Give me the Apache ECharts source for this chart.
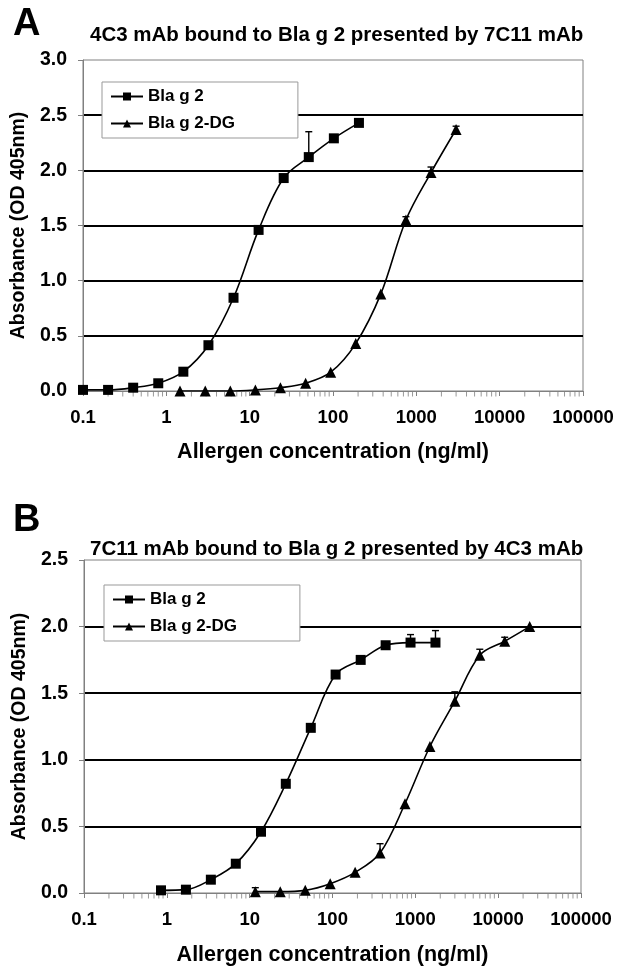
<!DOCTYPE html>
<html>
<head>
<meta charset="utf-8">
<script src="https://cdn.jsdelivr.net/npm/echarts@6/dist/echarts.min.js"></script>
<style>
html,body{margin:0;padding:0;background:#fff;}
#chart{width:624px;height:979px;}
</style>
</head>
<body>
<div id="chart"></div>
<script>
// ---------- data ----------
const seriesNames = ['Bla g 2', 'Bla g 2-DG'];
const xTickLabels = ['0.1', '1', '10', '100', '1000', '10000', '100000'];

// Panel A
const concA_bla = [0.1, 0.2, 0.4, 0.8, 1.6, 3.2, 6.4, 12.8, 25.6, 51.2, 102.4, 204.8];
const absA_bla  = [0.01, 0.01, 0.03, 0.07, 0.175, 0.415, 0.845, 1.46, 1.93, 2.12, 2.29, 2.43];
const errA_bla  = [null, null, null, null, null, null, null, null, null, 2.35, null, null];
const concA_dg  = [1.46, 2.93, 5.86, 11.7, 23.4, 46.9, 93.8, 187.5, 375, 750, 1500, 3000];
const absA_dg   = [0.0, 0.0, 0.0, 0.01, 0.03, 0.07, 0.17, 0.43, 0.88, 1.55, 1.98, 2.37];
const errA_dg   = [null, null, null, null, null, null, null, null, null, 1.58, 2.03, 2.40];

// Panel B
const concB_bla = [0.85, 1.7, 3.4, 6.8, 13.7, 27.3, 54.7, 109, 219, 438, 875, 1750];
const absB_bla  = [0.02, 0.025, 0.1, 0.22, 0.46, 0.82, 1.24, 1.64, 1.75, 1.86, 1.88, 1.88];
const errB_bla  = [null, null, null, null, null, null, null, null, null, null, 1.94, 1.97];
const concB_dg  = [11.7, 23.4, 46.9, 93.8, 187.5, 375, 750, 1500, 3000, 6000, 12000, 24000];
const absB_dg   = [0.01, 0.01, 0.02, 0.07, 0.155, 0.30, 0.67, 1.10, 1.44, 1.785, 1.89, 2.0];
const errB_dg   = [0.04, null, null, null, null, 0.37, null, null, 1.51, 1.83, 1.92, null];

const minorMultipliers = [2, 3, 4, 5, 6, 7, 8, 9];
const decades = [0.1, 1, 10, 100, 1000, 10000];

// ---------- helpers ----------
const FONT = '"Liberation Sans", Arial, sans-serif';
const pairs = (xs, ys) => xs.map((x, i) => [x, ys[i]]);
const errData = (xs, ys, es) => xs.map((x, i) => es[i] == null ? null : [x, ys[i], es[i]]).filter(d => d);
const minorTicks = [];
decades.forEach(d => minorMultipliers.forEach(m => minorTicks.push([d * m, 0])));

function errRender(params, api) {
  const p0 = api.coord([api.value(0), api.value(1)]);
  const p1 = api.coord([api.value(0), api.value(2)]);
  return {
    type: 'group',
    children: [
      { type: 'line', shape: { x1: p0[0], y1: p0[1], x2: p1[0], y2: p1[1] }, style: { stroke: '#000', lineWidth: 1.4 } },
      { type: 'line', shape: { x1: p1[0] - 3.5, y1: p1[1], x2: p1[0] + 3.5, y2: p1[1] }, style: { stroke: '#000', lineWidth: 1.4 } }
    ]
  };
}

function xAxisDef(gridIndex, gap) {
  return {
    type: 'log', gridIndex, logBase: 10, min: 0.1, max: 100000,
    axisLine: { show: true, lineStyle: { color: '#808080', width: 1 } },
    axisTick: { show: true, length: 5, inside: false, lineStyle: { color: '#808080' } },
    splitLine: { show: false },
    axisLabel: {
      margin: 17, color: '#000', fontFamily: FONT, fontWeight: 'bold', fontSize: 18.5,
      formatter: v => xTickLabels[Math.round(Math.log10(v)) + 1]
    },
    name: 'Allergen concentration (ng/ml)', nameLocation: 'middle', nameGap: gap,
    nameTextStyle: { color: '#000', fontFamily: FONT, fontWeight: 'bold', fontSize: 21.5 }
  };
}
function yAxisDef(gridIndex, max) {
  return {
    type: 'value', gridIndex, min: 0, max: max, interval: 0.5,
    axisLine: { show: true, lineStyle: { color: '#808080', width: 1 } },
    axisTick: { show: true, length: 5, lineStyle: { color: '#808080' } },
    splitLine: { show: true, showMinLine: false, showMaxLine: false, lineStyle: { color: '#000', width: 1.8 } },
    axisLabel: { margin: 16, color: '#000', fontFamily: FONT, fontWeight: 'bold', fontSize: 19.5, formatter: v => v.toFixed(1) },
    name: 'Absorbance (OD 405nm)', nameLocation: 'middle', nameGap: 54, nameRotate: 90,
    nameTextStyle: { color: '#000', fontFamily: FONT, fontWeight: 'bold', fontSize: 19.5 }
  };
}
function lineSeries(name, idx, data, symbol, size) {
  return {
    type: 'line', name, xAxisIndex: idx, yAxisIndex: idx, data,
    smooth: 0.35, symbol, symbolSize: size, showAllSymbol: true,
    lineStyle: { color: '#000', width: 1.6 }, itemStyle: { color: '#000' }, z: 3
  };
}
function legendDef(left, top) {
  return {
    data: seriesNames, orient: 'vertical', left, top,
    itemWidth: 32, itemHeight: 10, itemGap: 10,
    padding: [6, 63, 6, 8],
    backgroundColor: '#fff', borderColor: '#999', borderWidth: 1,
    textStyle: { color: '#000', fontFamily: FONT, fontWeight: 'bold', fontSize: 17 },
    selectedMode: false
  };
}

const chart = echarts.init(document.getElementById('chart'), null, { renderer: 'canvas' });
chart.setOption({
  backgroundColor: '#fff',
  animation: false,
  title: [
    { text: 'A', left: 8, top: 1, textStyle: { fontFamily: FONT, fontWeight: 'bold', fontSize: 38, color: '#000' } },
    { text: '4C3 mAb bound to Bla g 2 presented by 7C11 mAb', left: 85, top: 20, textStyle: { fontFamily: FONT, fontWeight: 'bold', fontSize: 20.5, color: '#000' } },
    { text: 'B', left: 8, top: 497, textStyle: { fontFamily: FONT, fontWeight: 'bold', fontSize: 38, color: '#000' } },
    { text: '7C11 mAb bound to Bla g 2 presented by 4C3 mAb', left: 85, top: 534, textStyle: { fontFamily: FONT, fontWeight: 'bold', fontSize: 20.5, color: '#000' } }
  ],
  legend: [legendDef(102, 82), legendDef(104, 585)],
  grid: [
    { left: 83, top: 60, width: 500, height: 331, show: true, borderColor: '#808080', borderWidth: 1, backgroundColor: '#fff' },
    { left: 84, top: 560, width: 497, height: 333, show: true, borderColor: '#808080', borderWidth: 1, backgroundColor: '#fff' }
  ],
  xAxis: [xAxisDef(0, 50), xAxisDef(1, 51)],
  yAxis: [yAxisDef(0, 3), yAxisDef(1, 2.5)],
  series: [
    { type: 'scatter', xAxisIndex: 0, yAxisIndex: 0, data: minorTicks, symbol: 'rect', symbolSize: [1, 5], symbolOffset: [0, 3], itemStyle: { color: '#808080' }, silent: true, clip: false, z: 1 },
    { type: 'scatter', xAxisIndex: 1, yAxisIndex: 1, data: minorTicks, symbol: 'rect', symbolSize: [1, 5], symbolOffset: [0, 3], itemStyle: { color: '#808080' }, silent: true, clip: false, z: 1 },
    { type: 'custom', xAxisIndex: 0, yAxisIndex: 0, data: errData(concA_bla, absA_bla, errA_bla), renderItem: errRender, silent: true, z: 2 },
    { type: 'custom', xAxisIndex: 0, yAxisIndex: 0, data: errData(concA_dg, absA_dg, errA_dg), renderItem: errRender, silent: true, z: 2 },
    { type: 'custom', xAxisIndex: 1, yAxisIndex: 1, data: errData(concB_bla, absB_bla, errB_bla), renderItem: errRender, silent: true, z: 2 },
    { type: 'custom', xAxisIndex: 1, yAxisIndex: 1, data: errData(concB_dg, absB_dg, errB_dg), renderItem: errRender, silent: true, z: 2 },
    lineSeries(seriesNames[0], 0, pairs(concA_bla, absA_bla), 'rect', 10),
    lineSeries(seriesNames[1], 0, pairs(concA_dg, absA_dg), 'triangle', 11),
    lineSeries(seriesNames[0], 1, pairs(concB_bla, absB_bla), 'rect', 10),
    lineSeries(seriesNames[1], 1, pairs(concB_dg, absB_dg), 'triangle', 11)
  ]
});
</script>
</body>
</html>
